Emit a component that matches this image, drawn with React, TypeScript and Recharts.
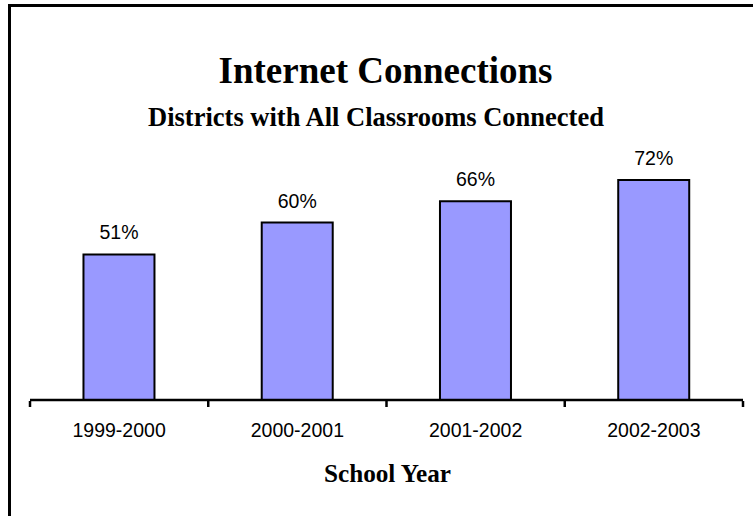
import React from 'react';
import { BarChart, Bar, XAxis, YAxis, LabelList, Customized } from 'recharts';

const categories = ['1999-2000', '2000-2001', '2001-2002', '2002-2003'];
const percentConnected = [51, 60, 66, 72];
const categoryEdges = [0, 1, 2, 3, 4];
const title = 'Internet Connections';
const subtitle = 'Districts with All Classrooms Connected';
const xAxisTitle = 'School Year';

const data = categories.map((c, i) => ({ year: c, value: percentConnected[i], edge: i + 0.5 }));

const serif = '"Liberation Serif", "Times New Roman", serif';
const sans = '"Liberation Sans", Arial, sans-serif';

const Titles = () => (
  <g>
    <text x={385.5} y={83} textAnchor="middle" fontFamily={serif} fontWeight="bold" fontSize={37} fill="#000">
      {title}
    </text>
    <text x={376} y={126} textAnchor="middle" fontFamily={serif} fontWeight="bold" fontSize={26.5} fill="#000">
      {subtitle}
    </text>
    <text x={387.5} y={482} textAnchor="middle" fontFamily={serif} fontWeight="bold" fontSize={25.2} fill="#000">
      {xAxisTitle}
    </text>
  </g>
);

export default function App() {
  return (
    <div style={{ position: 'absolute', left: 0, top: 0, width: 753, height: 516, background: '#fff', overflow: 'hidden' }}>
      <div
        style={{
          position: 'absolute',
          left: 8,
          top: 4,
          width: 745,
          height: 512,
          borderLeft: '3px solid #000',
          borderTop: '3px solid #000',
          boxSizing: 'border-box',
        }}
      />
      <div style={{ position: 'absolute', left: 0, top: 0 }}>
        <BarChart
          width={753}
          height={516}
          data={data}
          margin={{ top: 151.5, right: 10, bottom: 114, left: 30 }}
          barCategoryGap="30%"
        >
          <YAxis hide domain={[10, 80]} type="number" />
          <XAxis
            dataKey="year"
            height={1}
            axisLine={{ stroke: '#000', strokeWidth: 2.5 }}
            tickLine={false}
            tickSize={6}
            tickMargin={17}
            interval={0}
            tick={{ fill: '#000', fontSize: 19.5, fontFamily: sans }}
          />
          <XAxis
            xAxisId="edges"
            dataKey="edge"
            type="number"
            domain={[0, 4]}
            ticks={categoryEdges}
            interval={0}
            height={1}
            axisLine={false}
            tickFormatter={() => ''}
            tick={{ fontSize: 1, fill: 'none' }}
            tickLine={{ stroke: '#000', strokeWidth: 2.5 }}
            tickSize={6}
          />
          <Bar dataKey="value" fill="#9999FF" stroke="#000" strokeWidth={2} isAnimationActive={false}>
            <LabelList
              dataKey="value"
              position="top"
              offset={15}
              formatter={(v: number) => `${v}%`}
              style={{ fill: '#000', fontSize: 19.5, fontFamily: sans }}
            />
          </Bar>
          <Customized component={Titles} />
        </BarChart>
      </div>
    </div>
  );
}
